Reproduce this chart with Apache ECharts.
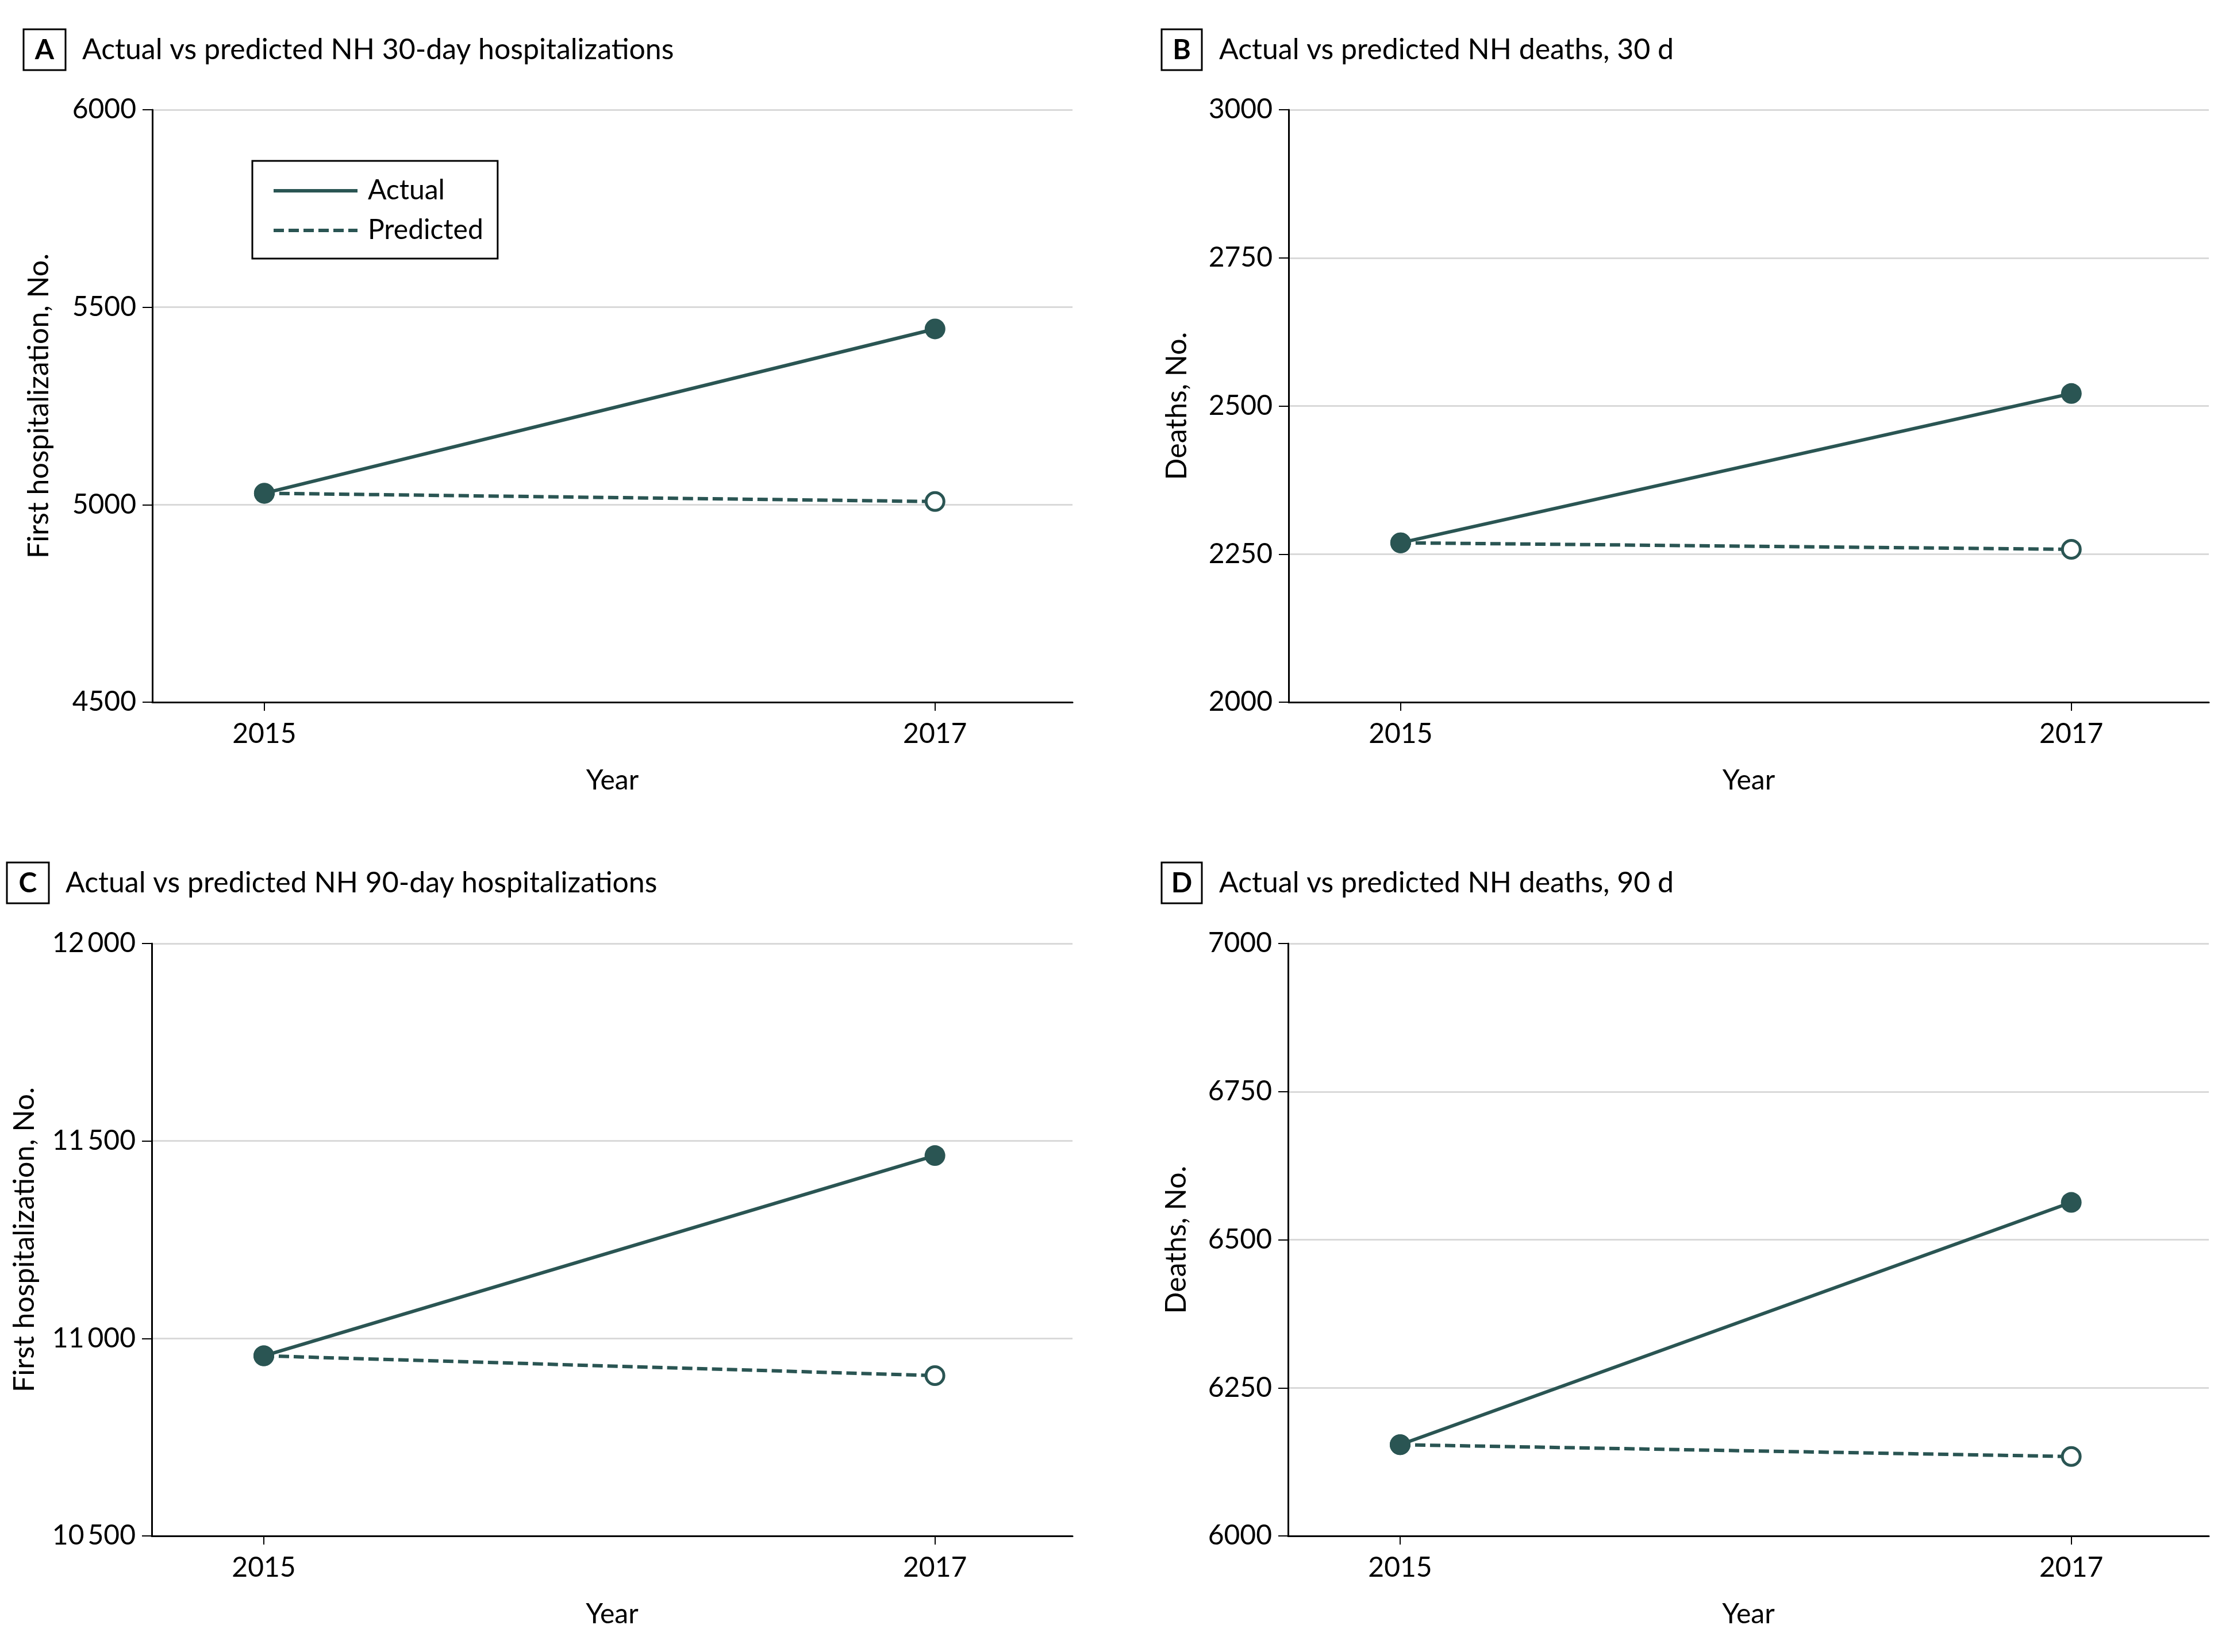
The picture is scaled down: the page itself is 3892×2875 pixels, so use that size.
<!DOCTYPE html>
<html>
<head>
<meta charset="utf-8">
<script src="https://cdn.jsdelivr.net/npm/echarts@6/dist/echarts.min.js"></script>
<style>
html,body{margin:0;padding:0;background:#fff;}
#c{width:3892px;height:2875px;}
</style>
</head>
<body>
<div id="c"></div>
<script>
// ---- data ----
const years = [2015, 2017];
const xTickLabels = [2015, 2017];

const actualA = [5029, 5445];
const predictedA = [5029, 5008];
const actualB = [2269, 2521];
const predictedB = [2269, 2258];
const actualC = [10956, 11463];
const predictedC = [10956, 10906];
const actualD = [6154, 6563];
const predictedD = [6154, 6134];

const yMinA = 4500, yMaxA = 6000, yStepA = 500;
const yMinB = 2000, yMaxB = 3000, yStepB = 250;
const yMinC = 10500, yMaxC = 12000, yStepC = 500;
const yMinD = 6000, yMaxD = 7000, yStepD = 250;

const panelLetters = ['A', 'B', 'C', 'D'];
const panelTitles = [
  'Actual vs predicted NH 30-day hospitalizations',
  'Actual vs predicted NH deaths, 30 d',
  'Actual vs predicted NH 90-day hospitalizations',
  'Actual vs predicted NH deaths, 90 d'
];
const yNames = ['First hospitalization, No.', 'Deaths, No.', 'First hospitalization, No.', 'Deaths, No.'];
const xName = 'Year';
const seriesNames = ['Actual', 'Predicted'];

// ---- layout / style ----
const FONT = "Lato, 'Liberation Sans', sans-serif";
const COLOR = '#2a5553';
const GRID_COLOR = '#d9d9d9';

const actuals = [actualA, actualB, actualC, actualD];
const predicteds = [predictedA, predictedB, predictedC, predictedD];
const yMins = [yMinA, yMinB, yMinC, yMinD];
const yMaxs = [yMaxA, yMaxB, yMaxC, yMaxD];
const ySteps = [yStepA, yStepB, yStepC, yStepD];

const grids = [
  {left: 265, top: 191, width: 1601, height: 1031},
  {left: 2242, top: 191, width: 1601, height: 1031},
  {left: 264, top: 1642, width: 1602, height: 1031},
  {left: 2241, top: 1642, width: 1602, height: 1031}
];
const yNameGaps = [172, 169, 196, 169];
const titlePos = [
  {left: 143, top: 59}, {left: 2121, top: 59},
  {left: 114, top: 1509}, {left: 2121, top: 1509}
];
const boxPos = [
  {x: 41, y: 51, w: 73, h: 71}, {x: 2021, y: 51, w: 70, h: 71},
  {x: 12, y: 1501, w: 73, h: 71}, {x: 2021, y: 1501, w: 70, h: 71}
];

function fmtY(v) {
  const s = String(v);
  if (v >= 10000) return s.slice(0, s.length - 3) + '\u2009' + s.slice(s.length - 3);
  return s;
}
function fmtX(v) { return String(Math.round(v)); }

const xAxes = [], yAxes = [], series = [], titles = [], graphics = [];
for (let i = 0; i < 4; i++) {
  xAxes.push({
    type: 'value', gridIndex: i, min: 2014.666, max: 2017.41,
    axisLine: {show: true, onZero: false, lineStyle: {color: '#000', width: 3}},
    axisTick: {show: true, customValues: years, length: 15, lineStyle: {color: '#000', width: 2}},
    axisLabel: {customValues: xTickLabels, margin: 32, fontSize: 48, color: '#000', fontFamily: FONT, formatter: fmtX},
    splitLine: {show: false},
    name: xName, nameLocation: 'middle', nameGap: 113,
    nameTextStyle: {fontSize: 48, color: '#000', fontFamily: FONT}
  });
  yAxes.push({
    type: 'value', gridIndex: i, min: yMins[i], max: yMaxs[i], interval: ySteps[i],
    axisLine: {show: true, lineStyle: {color: '#000', width: 3}},
    axisTick: {show: true, length: 17, lineStyle: {color: '#000', width: 2}},
    axisLabel: {margin: 28, fontSize: 48, color: '#000', fontFamily: FONT, formatter: fmtY},
    splitLine: {show: true, lineStyle: {color: GRID_COLOR, width: 3}},
    name: yNames[i], nameLocation: 'middle', nameGap: yNameGaps[i],
    nameTextStyle: {fontSize: 50, color: '#000', fontFamily: FONT}
  });
  series.push({
    type: 'line', name: seriesNames[0], xAxisIndex: i, yAxisIndex: i, z: 3,
    data: years.map((y, k) => [y, actuals[i][k]]),
    symbol: 'circle', symbolSize: 36,
    lineStyle: {color: COLOR, width: 6},
    itemStyle: {color: COLOR}
  });
  series.push({
    type: 'line', name: seriesNames[1], xAxisIndex: i, yAxisIndex: i, z: 2,
    data: years.map((y, k) => [y, predicteds[i][k]]),
    symbol: 'circle', symbolSize: 31,
    lineStyle: {color: COLOR, width: 6, type: [18, 8]},
    itemStyle: {color: '#fff', borderColor: COLOR, borderWidth: 5}
  });
  titles.push({
    text: panelTitles[i], left: titlePos[i].left, top: titlePos[i].top, padding: 0,
    textStyle: {fontSize: 50, fontWeight: 'normal', color: '#000', fontFamily: FONT, lineHeight: 56}
  });
  const b = boxPos[i];
  graphics.push({
    type: 'rect', shape: {x: b.x, y: b.y, width: b.w, height: b.h},
    style: {fill: 'none', stroke: '#000', lineWidth: 3}
  });
  graphics.push({
    type: 'text', x: b.x + b.w / 2, y: b.y + b.h / 2 + 1,
    style: {text: panelLetters[i], fill: '#000', font: 'bold 48px ' + FONT, textAlign: 'center', textVerticalAlign: 'middle'}
  });
}

const chart = echarts.init(document.getElementById('c'), null, {renderer: 'canvas'});
chart.setOption({
  animation: false,
  backgroundColor: '#fff',
  title: titles,
  grid: grids,
  xAxis: xAxes,
  yAxis: yAxes,
  legend: {
    data: seriesNames, orient: 'vertical', left: 439, top: 280,
    padding: [28, 25, 25, 34], itemWidth: 146, itemHeight: 20, itemGap: 21,
    borderColor: '#000', borderWidth: 3, selectedMode: false,
    itemStyle: {opacity: 0},
    lineStyle: {width: 6, color: COLOR},
    textStyle: {fontSize: 48, color: '#000', fontFamily: FONT, padding: [0, 0, 0, 13]}
  },
  graphic: graphics,
  series: series
});
</script>
</body>
</html>
